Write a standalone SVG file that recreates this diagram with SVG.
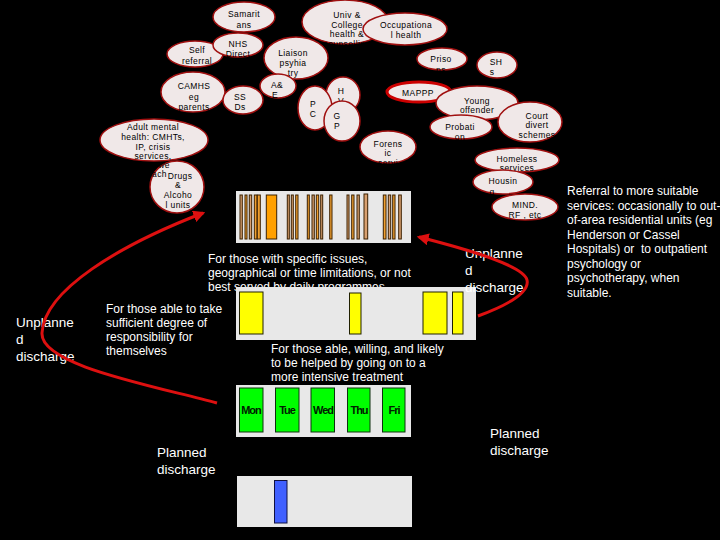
<svg xmlns="http://www.w3.org/2000/svg" width="720" height="540" viewBox="0 0 720 540">
<defs>
<style>
.e{fill:#f0e8e8;stroke:#a01010;stroke-width:1.5}
.t{font-family:"Liberation Sans",Arial,sans-serif;font-size:8.5px;fill:#000;text-anchor:middle;letter-spacing:0.4px}
.w{font-family:"Liberation Sans",Arial,sans-serif;font-size:12px;fill:#fff}
.b{font-family:"Liberation Sans",Arial,sans-serif;font-size:13.5px;fill:#fff}
.panel{fill:#e8e8e8}
.o{fill:#f0a030;stroke:#3a2000;stroke-width:1}
.o2{fill:#d8a070;stroke:#3a2000;stroke-width:1}
.y{fill:#ffff00;stroke:#202000;stroke-width:1}
.g{fill:#00ff00;stroke:#103010;stroke-width:1}
.d{font-family:"Liberation Sans",Arial,sans-serif;font-size:11px;font-weight:bold;fill:#002000;text-anchor:middle;letter-spacing:-1px}
.c{fill:none;stroke:#dd1010;stroke-width:3}
</style>
<marker id="ah" viewBox="0 0 10 10" refX="8" refY="5" markerWidth="4" markerHeight="4" orient="auto" markerUnits="strokeWidth">
<path d="M0,0 L10,5 L0,10 z" fill="#dd1010"/>
</marker>
</defs>
<rect width="720" height="540" fill="#000"/>

<g id="samaritans"><ellipse class="e" cx="244" cy="17" rx="31" ry="15"/><text class="t" x="244" y="17">Samarit</text><text class="t" x="244" y="28">ans</text></g>
<g id="self-referral"><ellipse class="e" cx="195" cy="54" rx="28" ry="13"/><text class="t" x="197" y="53">Self</text><text class="t" x="197" y="64">referral</text></g>
<g id="nhs-direct"><ellipse class="e" cx="238" cy="45" rx="25" ry="12"/><text class="t" x="238" y="47">NHS</text><text class="t" x="238" y="57">Direct</text></g>
<g id="liaison"><ellipse class="e" cx="296" cy="58" rx="32" ry="21"/><text class="t" x="293" y="56">Liaison</text><text class="t" x="293" y="66">psyhia</text><text class="t" x="293" y="76">try</text></g>
<g id="camhs"><ellipse class="e" cx="193" cy="92" rx="32" ry="20"/><text class="t" x="194" y="89">CAMHS</text><text class="t" x="194" y="100">eg</text><text class="t" x="194" y="110">parents</text></g>
<g id="ssds"><ellipse class="e" cx="243" cy="100" rx="20" ry="14"/><text class="t" x="240" y="100">SS</text><text class="t" x="240" y="110">Ds</text></g>
<g id="ae"><ellipse class="e" cx="278" cy="86" rx="18" ry="12"/><text class="t" x="277" y="88">A&amp;</text><text class="t" x="275" y="98">E</text></g>
<g id="univ"><ellipse class="e" cx="345" cy="22" rx="43" ry="22"/><text class="t" x="347" y="18">Univ &amp;</text><text class="t" x="347" y="28">College</text><text class="t" x="347" y="37">health &amp;</text><text class="t" x="347" y="47">counselling</text></g>
<g id="occupational"><ellipse class="e" cx="405" cy="29" rx="42" ry="16"/><text class="t" x="406" y="28">Occupationa</text><text class="t" x="406" y="38">l health</text></g>
<g id="prisons"><ellipse class="e" cx="442" cy="59" rx="25" ry="11"/><text class="t" x="441" y="62">Priso</text><text class="t" x="441" y="73">ns</text></g>
<g id="shs"><ellipse class="e" cx="497" cy="65" rx="20" ry="13"/><text class="t" x="496" y="65">SH</text><text class="t" x="492" y="75">s</text></g>
<g id="hv"><ellipse class="e" cx="343" cy="95" rx="17" ry="18"/><text class="t" x="341" y="94">H</text><text class="t" x="341" y="104">V</text></g>
<g id="pc"><ellipse class="e" cx="315" cy="108" rx="17" ry="22"/><text class="t" x="313" y="107">P</text><text class="t" x="313" y="117">C</text></g>
<g id="gp"><ellipse class="e" cx="342" cy="121" rx="18" ry="20"/><text class="t" x="337" y="119">G</text><text class="t" x="337" y="129">P</text></g>
<g id="mappp"><ellipse cx="419" cy="92" rx="32" ry="10" fill="#f0e8e8" stroke="#cc0000" stroke-width="3"/><text class="t" x="418" y="96">MAPPP</text></g>
<g id="young-offender"><ellipse class="e" cx="477" cy="103" rx="41" ry="17"/><text class="t" x="477" y="104">Young</text><text class="t" x="477" y="113">offender</text><text class="t" x="477" y="122">s</text></g>
<g id="probation"><ellipse class="e" cx="461" cy="127" rx="31" ry="12"/><text class="t" x="460" y="130">Probati</text><text class="t" x="460" y="140">on</text></g>
<g id="court"><ellipse class="e" cx="530" cy="122" rx="32" ry="20"/><text class="t" x="537" y="119">Court</text><text class="t" x="537" y="128">divert</text><text class="t" x="537" y="138">schemes</text></g>
<g id="forensic"><ellipse class="e" cx="388" cy="147" rx="28" ry="16"/><text class="t" x="388" y="147">Forens</text><text class="t" x="388" y="156">ic</text><text class="t" x="388" y="166">servi</text></g>
<g id="homeless"><ellipse class="e" cx="517" cy="160" rx="42" ry="12"/><text class="t" x="517" y="162">Homeless</text><text class="t" x="517" y="171">services</text></g>
<g id="housing"><ellipse class="e" cx="503" cy="182" rx="30" ry="12"/><text class="t" x="503" y="184">Housin</text><text class="t" x="492" y="195">g</text></g>
<g id="mind"><ellipse class="e" cx="525" cy="207" rx="33" ry="13"/><text class="t" x="525" y="208">MIND.</text><text class="t" x="525" y="218">RF , etc</text></g>
<g id="drugs"><ellipse class="e" cx="177" cy="187" rx="27" ry="26"/><text class="t" x="180" y="179">Drugs</text><text class="t" x="178" y="188">&amp;</text><text class="t" x="178" y="198">Alcoho</text><text class="t" x="178" y="208">l units</text></g>
<g id="adult-mental-health"><ellipse class="e" cx="154" cy="140" rx="54" ry="21"/><text class="t" x="153" y="130">Adult mental</text><text class="t" x="153" y="140">health: CMHTs,</text><text class="t" x="153" y="150">IP, crisis</text><text class="t" x="153" y="159">services,</text><text class="t" x="164" y="168">we</text><text class="t" x="157" y="177">each</text></g>

<g id="orange-programme">
<rect class="panel" x="236" y="191" width="175" height="52"/>
<rect class="o2" x="240" y="195" width="2.3" height="44"/>
<rect class="o" x="245" y="195" width="2" height="44"/>
<rect class="o2" x="249.3" y="195" width="2.4" height="44"/>
<rect class="o" x="254.3" y="195" width="2.7" height="44"/>
<rect class="o" x="257.3" y="195" width="3" height="44"/>
<rect fill="#ffa000" stroke="#3a2000" x="266.3" y="195" width="10.4" height="44"/>
<rect class="o2" x="287.3" y="195" width="2" height="44"/>
<rect class="o2" x="291.3" y="195" width="2" height="44"/>
<rect class="o" x="295.7" y="195" width="2.3" height="44"/>
<rect class="o" x="307.3" y="195" width="2" height="44"/>
<rect class="o2" x="312" y="195" width="2.3" height="44"/>
<rect class="o" x="316.3" y="195" width="2.4" height="44"/>
<rect class="o2" x="320.7" y="195" width="2" height="44"/>
<rect class="o" x="329.7" y="195" width="2.3" height="44"/>
<rect class="o2" x="347" y="195" width="2" height="44"/>
<rect class="o" x="351.7" y="195" width="2.3" height="44"/>
<rect class="o2" x="357" y="195" width="2.3" height="44"/>
<rect class="o2" x="364" y="194" width="3.7" height="45"/>
<rect class="o" x="383.3" y="195" width="2.7" height="44"/>
<rect class="o2" x="388.3" y="195" width="2.4" height="44"/>
<rect class="o" x="392.7" y="195" width="2.3" height="44"/>
<rect class="o2" x="398.7" y="195" width="2.6" height="44"/>
</g>

<text class="w" x="208" y="263">For those with specific issues,</text>
<text class="w" x="208" y="277">geographical or time limitations, or not</text>
<text class="w" x="208" y="291">best served by daily programmes</text>

<g id="yellow-programme">
<rect class="panel" x="236" y="287" width="240" height="53"/>
<rect class="y" x="239.5" y="292" width="23.5" height="42"/>
<rect class="y" x="349.5" y="293" width="11.5" height="41"/>
<rect class="y" x="423" y="292" width="24" height="42"/>
<rect class="y" x="452.5" y="292" width="10.5" height="42"/>
</g>

<text class="w" x="106" y="313">For those able to take</text>
<text class="w" x="106" y="327">sufficient degree of</text>
<text class="w" x="106" y="341">responsibility for</text>
<text class="w" x="106" y="355">themselves</text>

<text class="w" x="271" y="353">For those able, willing, and likely</text>
<text class="w" x="271" y="367">to be helped by going on to a</text>
<text class="w" x="271" y="381">more intensive treatment</text>

<g id="green-programme">
<rect class="panel" x="236" y="385" width="175" height="52"/>
<rect class="g" x="239.5" y="388" width="23.5" height="44"/><text class="d" x="251" y="414">Mon</text>
<rect class="g" x="275.5" y="388" width="23.5" height="44"/><text class="d" x="287" y="414">Tue</text>
<rect class="g" x="311" y="388" width="23.5" height="44"/><text class="d" x="323" y="414">Wed</text>
<rect class="g" x="347.5" y="388" width="22.5" height="44"/><text class="d" x="359" y="414">Thu</text>
<rect class="g" x="382.5" y="388" width="22.5" height="44"/><text class="d" x="394" y="414">Fri</text>
</g>

<g id="blue-programme">
<rect class="panel" x="237" y="476" width="175" height="51"/>
<rect x="274.5" y="480.5" width="12.5" height="42.5" fill="#4060ff" stroke="#101040" stroke-width="1"/>
</g>

<text class="b" x="16" y="327">Unplanne</text>
<text class="b" x="16" y="344">d</text>
<text class="b" x="16" y="361">discharge</text>

<text class="b" x="465" y="258">Unplanne</text>
<text class="b" x="465" y="275">d</text>
<text class="b" x="465" y="292">discharge</text>

<text class="b" x="157" y="457">Planned</text>
<text class="b" x="157" y="474">discharge</text>

<text class="b" x="490" y="438">Planned</text>
<text class="b" x="490" y="455">discharge</text>

<g class="w">
<text x="567" y="195">Referral to more suitable</text>
<text x="567" y="209.5">services: occasionally to out-</text>
<text x="567" y="224">of-area residential units (eg</text>
<text x="567" y="238.5">Henderson or Cassel</text>
<text x="567" y="253">Hospitals) or&#160; to outpatient</text>
<text x="567" y="267.5">psychology or</text>
<text x="567" y="282">psychotherapy, when</text>
<text x="567" y="296.5">suitable.</text>
</g>

<g id="connectors">
<path class="c" d="M217,403 C150,385 40,365 42,333 C44,290 120,245 203,213" marker-end="url(#ah)"/>
<path class="c" d="M478,316 C505,306 530,293 527,280 C524,266 470,250 419,237" marker-end="url(#ah)"/>
</g>
</svg>
